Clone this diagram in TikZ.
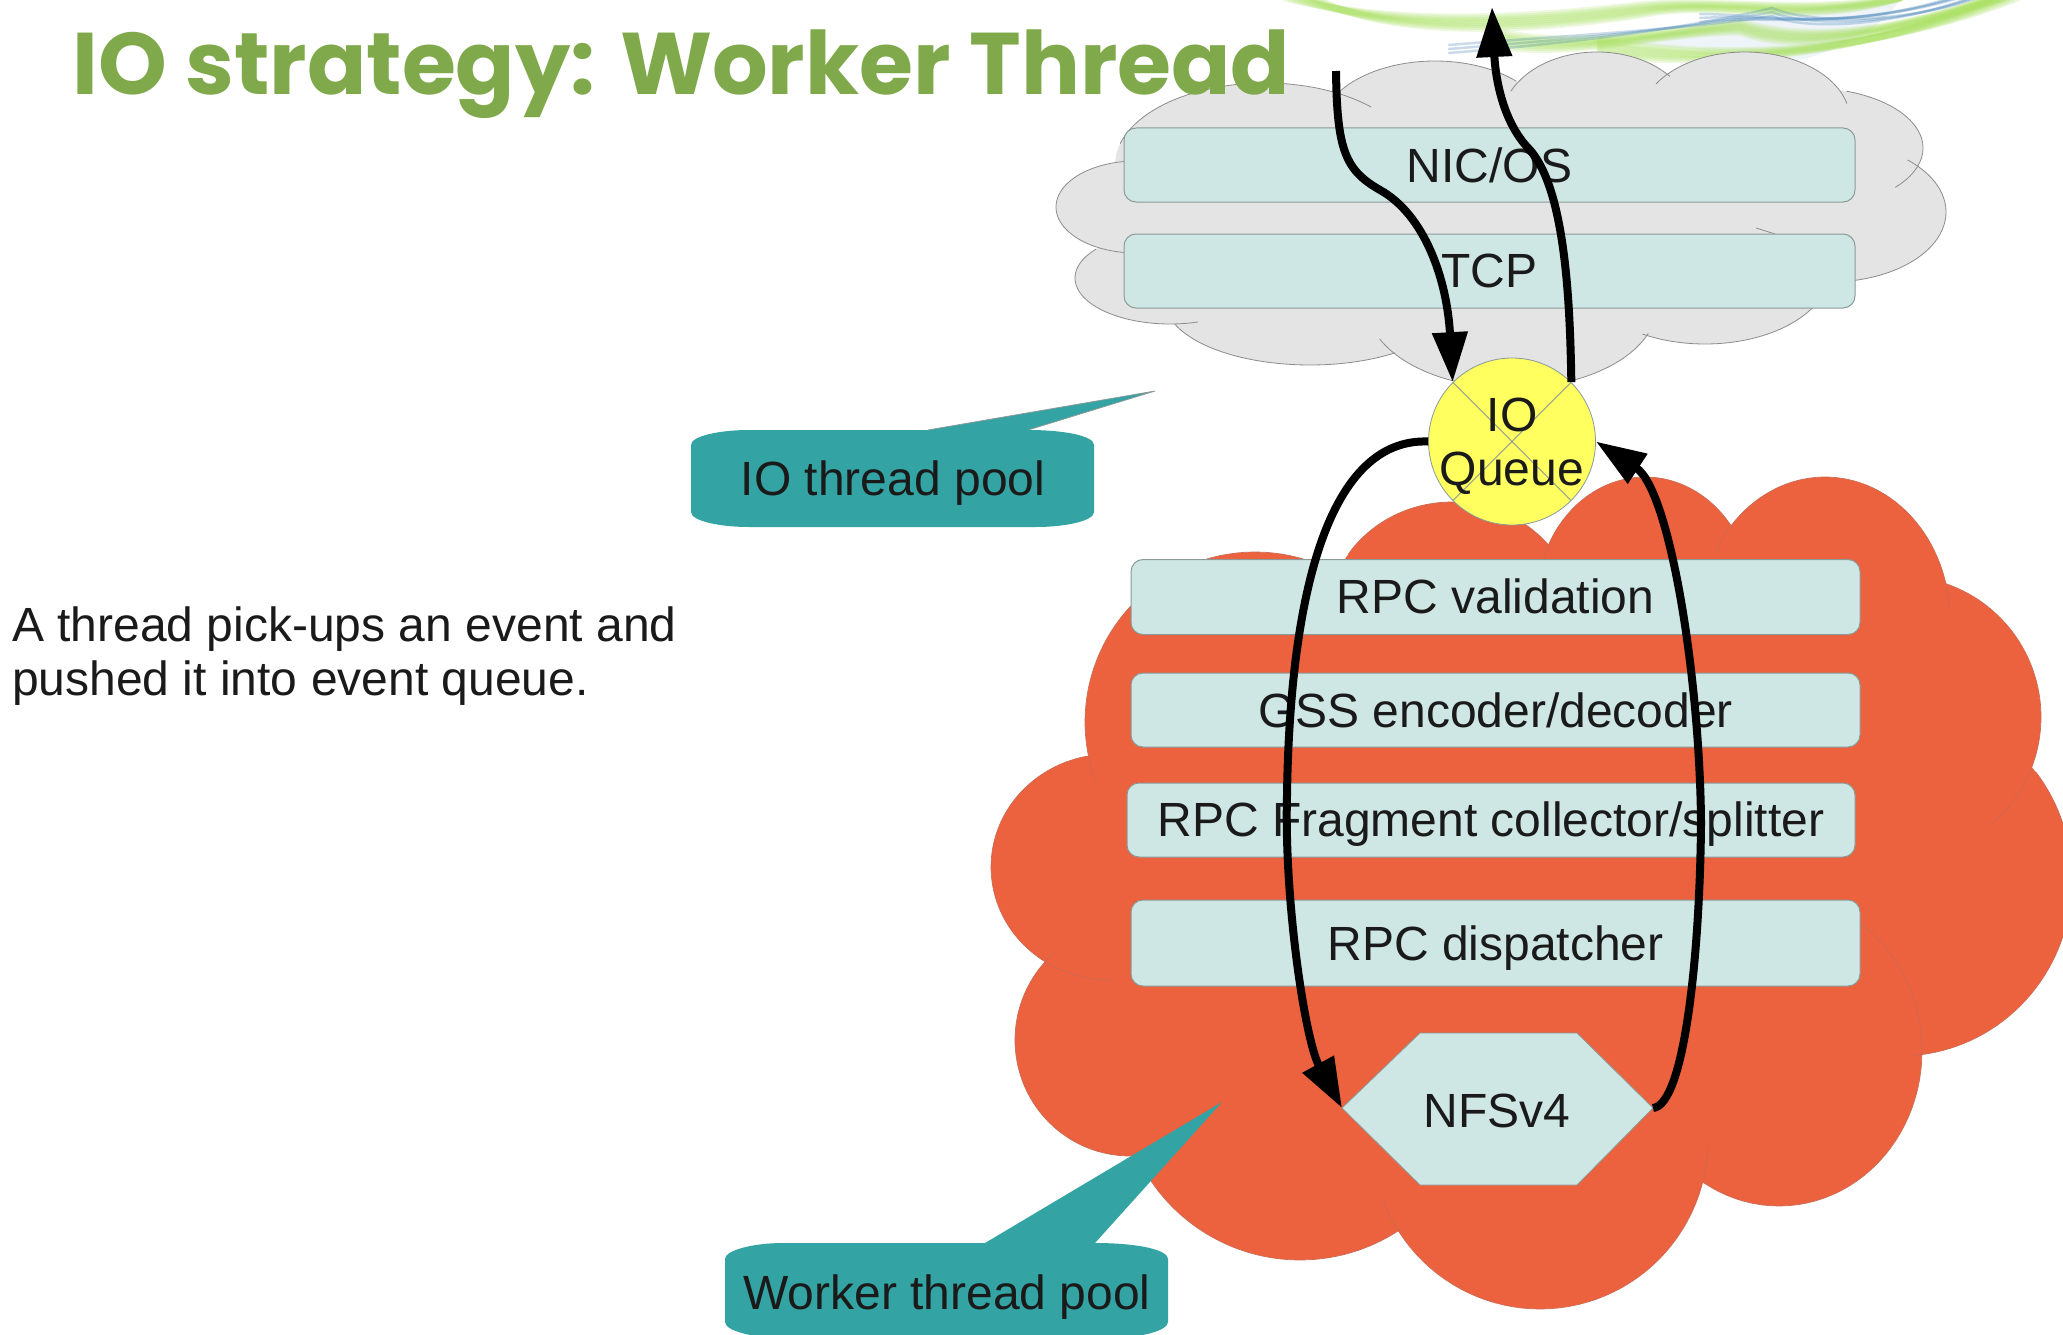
\documentclass[tikz,border=0pt]{standalone}
\usepackage{fontspec}
\setmainfont{Liberation Sans}
\newfontfamily\titlefont{Poppins}
\usetikzlibrary{arrows.meta}
\definecolor{boxfill}{HTML}{CFE7E4}
\definecolor{boxline}{HTML}{8A9A98}
\definecolor{cloudgray}{HTML}{E4E4E4}
\definecolor{cloudline}{HTML}{8C8C8C}
\definecolor{cloudred}{HTML}{EC613E}
\definecolor{tealc}{HTML}{33A3A3}
\definecolor{ioyellow}{HTML}{FFFF5F}
\definecolor{titlegreen}{HTML}{7FA94A}
\definecolor{inktext}{HTML}{1A1A1A}
\definecolor{swgreen}{HTML}{A6E05A}
\definecolor{swblue}{HTML}{3F7FB5}
\tikzset{
 lbl/.style={font=\fontsize{48}{54}\selectfont,text=inktext,inner sep=0pt},
 layerbox/.style={draw=boxline,line width=1pt,fill=boxfill,rounded corners=12pt},
 flow/.style={line width=8pt,draw=black},
 flowtip/.style={-{Triangle[length=50pt,width=34pt]}},
 swirl/.style={line width=7pt,opacity=.2,draw=swgreen,line cap=round},
 swirlb/.style={line width=2.5pt,opacity=.28,draw=swblue,line cap=round},
}
\begin{document}
\begin{tikzpicture}[x=1pt,y=-1pt]
\useasboundingbox (0,0) rectangle (2063,1335);
\clip (0,0) rectangle (2063,1335);
\fill[white] (0,0) rectangle (2063,1335);
% swirl
\fill[swblue,opacity=.08] (1620,42) .. controls (1700,25) and (1760,15) .. (1830,5) -- (1900,0) .. controls (1880,30) and (1840,50) .. (1800,60) .. controls (1740,50) and (1680,50) .. cycle;
\foreach \d in {0,5,10,15,20,25,30}{
 \draw[swirl] (1285+\d,-2) .. controls (1380,22+\d/3) and (1490,22+\d/2) .. (1640,5+\d/3) .. controls (1720,-2) and (1800,14+\d/2) .. (1900,-2);
 \draw[swirl] (1490,30+\d/2) .. controls (1570,50+\d/3) and (1660,32) .. (1740,22+\d/3) .. controls (1800,40+\d/2) and (1880,36) .. (1990+\d/2,-2);
 \draw[swirl] (1600,40+\d/2) .. controls (1700,56+\d/3) and (1850,62) .. (2018-\d,-2);
}
\foreach \d in {0,4,8}{
 \draw[swirlb] (1449,53-\d) .. controls (1560,44-\d) and (1680,30) .. (1772,8+\d) .. controls (1810,24+\d) and (1900,24) .. (1977-\d,-2);
 \draw[swirlb] (1700,14+\d) .. controls (1760,14) and (1840,32) .. (1951+\d,-2);
}
% cloud lobes: centre x, centre y, rx, ry, arc from, arc to
\def\graycloud{%
\lobe{1136}{207}{80}{46}{98}{262}
\lobe{1170}{278}{95}{46}{141}{287}
\lobe{1310}{301}{145}{64}{201}{306}
\lobe{1512}{305}{145}{83}{204}{340}
\lobe{1705}{270}{125}{74}{240}{331}
\lobe{1830}{212}{116}{70}{-78}{48}
\lobe{1810}{148}{113}{60}{-41}{71}
\lobe{1745}{120}{105}{68}{14}{148}
\lobe{1597}{120}{95}{68}{40}{155}
\lobe{1435}{130}{115}{69}{45}{146}
\lobe{1265}{165}{150}{82}{45}{165}
}
\def\lobe#1#2#3#4#5#6{\fill[cloudgray] plot[domain=0:360,samples=72] ({#1+#3*cos(\x)},{#2-#4*sin(\x)});}
\graycloud
\fill[cloudgray] (1130,170) -- (1340,110) -- (1800,110) -- (1880,200) -- (1800,290) -- (1512,340) -- (1200,300) -- cycle;
\def\lobe#1#2#3#4#5#6{\draw[cloudline,line width=.8pt] plot[domain=#5:#6,samples=50] ({#1+#3*cos(\x)},{#2-#4*sin(\x)});}
\graycloud
\draw[cloudline,line width=.8pt] (1756,228) -- (1775,234);
% title
\node[anchor=base west,inner sep=0pt,text=titlegreen] (title) at (72,95) {\resizebox{1218pt}{!}{\titlefont\bfseries\fontsize{100}{110}\selectfont IO strategy: Worker Thread}};
% red cloud
\def\redcloud{%
\lobe{1255}{722}{170}{170}{73}{200}
\lobe{1452}{620}{125}{118}{39}{146}
\lobe{1645}{600}{108}{123}{36}{159}
\lobe{1825}{620}{125}{143}{5}{151}
\lobe{1900}{717}{141}{141}{-48}{71}
\lobe{1900}{880}{172}{176}{-86}{38}
\lobe{1779}{1051}{143}{155}{-122}{55}
\lobe{1540}{1140}{168}{169}{200}{357}
\lobe{1300}{1080}{180}{180}{213}{304}
\lobe{1130}{1040}{115}{116}{131}{270}
\lobe{1110}{867}{119}{113}{101}{271}
}
\def\lobe#1#2#3#4#5#6{\fill[cloudred] plot[domain=0:360,samples=72] ({#1+#3*cos(\x)},{#2-#4*sin(\x)});}
\redcloud
\fill[cloudred] (1150,700) -- (1300,600) -- (1800,600) -- (1950,800) -- (1900,1000) -- (1700,1150) -- (1400,1200) -- (1150,1100) -- (1060,900) -- cycle;
\def\lobe#1#2#3#4#5#6{\draw[cloudred!70!gray,line width=.7pt] plot[domain=#5:#6,samples=50] ({#1+#3*cos(\x)},{#2-#4*sin(\x)});}
\redcloud
% layer boxes
\node[layerbox,minimum width=731pt,minimum height=74pt] (nic) at (1489.5,165) {};
\node[layerbox,minimum width=731pt,minimum height=74pt] (tcp) at (1489.5,271) {};
\node[layerbox,minimum width=729pt,minimum height=75pt] (val) at (1495.5,597) {};
\node[layerbox,minimum width=729pt,minimum height=74pt] (gss) at (1495.5,710) {};
\node[layerbox,minimum width=728pt,minimum height=74pt] (frag) at (1491,820) {};
\node[layerbox,minimum width=729pt,minimum height=86pt] (disp) at (1495.5,943) {};
\node[lbl] (nicl) at (1489.5,165) {NIC/OS};
\node[lbl] (tcpl) at (1489.5,271) {TCP};
\node[lbl] (vall) at (1495.5,596.5) {RPC validation};
\node[lbl] (gssl) at (1495.5,710) {GSS encoder/decoder};
\node[lbl] (fragl) at (1491,824) {RPC Fragment collector/splitter};
\node[lbl] (displ) at (1495.5,948) {RPC dispatcher};
% NFSv4 hexagon
\coordinate (nfsL) at (1342,1108);
\coordinate (nfsR) at (1653,1108);
\filldraw[fill=boxfill,draw=boxline,line width=.8pt] (nfsL) -- (1420,1033) -- (1577,1033) -- (nfsR) -- (1577,1185) -- (1420,1185) -- cycle;
\node[lbl] (nfs) at (1497,1110.5) {NFSv4};
% IO queue
\node[circle,draw=boxline,line width=.8pt,fill=ioyellow,minimum size=167pt,inner sep=0pt,
 path picture={\draw[boxline,line width=.8pt] (path picture bounding box.north west) -- (path picture bounding box.south east) (path picture bounding box.north east) -- (path picture bounding box.south west);}] (io) at (1512,441.5) {};
\node[lbl,align=center] (ioq) at (1512,446) {IO\\Queue};
% callouts
\coordinate (iotip) at (1155,391);
\fill[tealc] (691,445) .. controls (691,436) and (720,430) .. (749,430) -- (928,430) -- (iotip) -- (1028,430) .. controls (1065,430) and (1094,436) .. (1094,445) -- (1094,512) .. controls (1094,521) and (1065,527) .. (1036,527) -- (749,527) .. controls (720,527) and (691,521) .. (691,512) -- cycle;
\draw[boxline,line width=.8pt] (928,430) -- (iotip) -- (1028,430);
\node[lbl] (iopool) at (893,483) {IO thread pool};
\coordinate (wtip) at (1222,1102);
\fill[tealc] (725,1259) .. controls (725,1250) and (754,1243) .. (783,1243) -- (985,1243) -- (wtip) -- (1095,1243) .. controls (1139,1243) and (1168,1250) .. (1168,1259) -- (1168,1322) .. controls (1168,1331) and (1139,1338) .. (1110,1338) -- (783,1338) .. controls (754,1338) and (725,1331) .. (725,1322) -- cycle;
\node[lbl] (wpool) at (947,1297) {Worker thread pool};
% left text
\node[lbl,anchor=north west,align=left] (desc) at (12,607) {A thread pick-ups an event and\\pushed it into event queue.};
% flows
\coordinate (instart) at (1336,71);
\coordinate (outend) at (1492,7);
\draw[flow,flowtip] (instart) .. controls (1337,150) and (1345,170) .. (1380,190) .. controls (1425,215) and (1447,280) .. (io.135);
\draw[flow,flowtip] (io.45) .. controls (1570,300) and (1565,190) .. (1530,150) .. controls (1500,120) and (1495,70) .. (outend);
\draw[flow,flowtip] (io.west) .. controls (1330,438) and (1290,590) .. (1287,795) .. controls (1284,900) and (1305,1040) .. (nfsL);
\draw[flow,flowtip] (nfsR) .. controls (1685,1105) and (1700,950) .. (1701,823) .. controls (1700,680) and (1670,490) .. (io.east);
\end{tikzpicture}
\end{document}
